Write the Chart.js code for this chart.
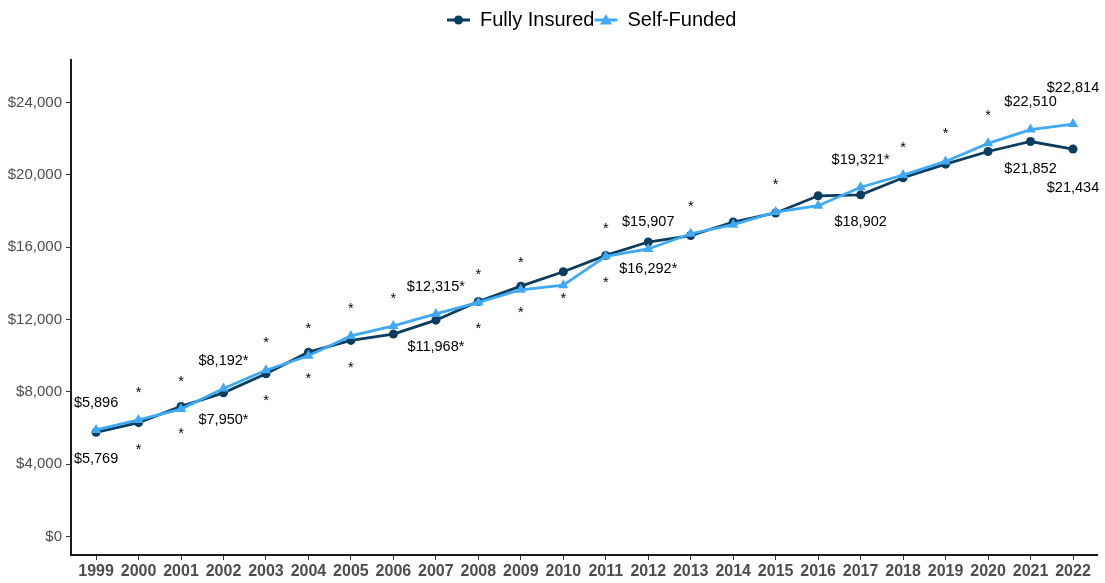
<!DOCTYPE html>
<html>
<head>
<meta charset="utf-8">
<script src="https://cdn.jsdelivr.net/npm/chart.js@4"></script>
<style>
  html, body { margin: 0; padding: 0; background: #fff; }
  canvas { display: block; }
</style>
</head>
<body>
<canvas id="premiumChart" width="1105" height="583"></canvas>
<script>
const years = [1999, 2000, 2001, 2002, 2003, 2004, 2005, 2006, 2007, 2008, 2009, 2010,
  2011, 2012, 2013, 2014, 2015, 2016, 2017, 2018, 2019, 2020, 2021, 2022];

const fullyInsured = [5769, 6300, 7200, 7950, 9000, 10200, 10850, 11200, 11968, 13000, 13850, 14650,
  15550, 16292, 16650, 17400, 17900, 18850, 18902, 19850, 20600, 21300, 21852, 21434];
const selfFunded = [5896, 6450, 7050, 8192, 9200, 10000, 11100, 11650, 12315, 12950, 13650, 13900,
  15500, 15907, 16750, 17250, 17950, 18300, 19321, 20000, 20750, 21750, 22510, 22814];

// text shown under the fully insured line / over the self-funded line
const fullyInsuredLabels = ['$5,769', '*', '*', '$7,950*', '*', '*', '*', '', '$11,968*', '*', '*', '*',
  '*', '$16,292*', '', '', '', '', '$18,902', '', '', '', '$21,852', '$21,434'];
const selfFundedLabels = ['$5,896', '*', '*', '$8,192*', '*', '*', '*', '*', '$12,315*', '*', '*', '',
  '*', '$15,907', '*', '', '*', '', '$19,321*', '*', '*', '*', '$22,510', '$22,814'];

const yTicks = [0, 4000, 8000, 12000, 16000, 20000, 24000];

const FONT = "'Liberation Sans', Arial, sans-serif";
const DARK = '#0b3d5e';
const LIGHT = '#40a9f5';

const NUDGE = 1500;
const lastNudge = { above: 2000, below: 2150 };

const fmtMoney = v => '$' + v.toLocaleString('en-US');

// === nhãn giá trị trên/dưới đường ===
const valueLabels = {
  id: 'valueLabels',
  afterDatasetsDraw(chart) {
    const { ctx, scales: { x, y } } = chart;
    ctx.save();
    ctx.font = '14.5px ' + FONT;
    ctx.fillStyle = '#000';
    ctx.textAlign = 'center';
    ctx.textBaseline = 'middle';
    const last = years.length - 1;
    years.forEach((yr, i) => {
      const px = x.getPixelForValue(yr);
      const up = i === last ? lastNudge.above : NUDGE;
      const down = i === last ? lastNudge.below : NUDGE;
      if (selfFundedLabels[i]) ctx.fillText(selfFundedLabels[i], px, y.getPixelForValue(selfFunded[i] + up));
      if (fullyInsuredLabels[i]) ctx.fillText(fullyInsuredLabels[i], px, y.getPixelForValue(fullyInsured[i] - down));
    });
    ctx.restore();
  }
};

// === chú thích ở trên cùng ===
const topLegend = {
  id: 'topLegend',
  afterDraw(chart) {
    const ctx = chart.ctx;
    const items = [
      { text: 'Fully Insured', color: DARK, style: 'circle' },
      { text: 'Self-Funded', color: LIGHT, style: 'triangle' }
    ];
    ctx.save();
    ctx.font = '20px ' + FONT;
    ctx.textBaseline = 'middle';
    ctx.textAlign = 'left';
    const cy = 20;
    let xPos = 447;
    items.forEach(it => {
      ctx.strokeStyle = it.color;
      ctx.fillStyle = it.color;
      ctx.lineWidth = 3;
      ctx.beginPath();
      ctx.moveTo(xPos, cy);
      ctx.lineTo(xPos + 23, cy);
      ctx.stroke();
      const mx = xPos + 11.5;
      ctx.beginPath();
      if (it.style === 'circle') {
        ctx.arc(mx, cy, 4.5, 0, Math.PI * 2);
      } else {
        ctx.moveTo(mx, cy - 6);
        ctx.lineTo(mx + 6, cy + 4.5);
        ctx.lineTo(mx - 6, cy + 4.5);
        ctx.closePath();
      }
      ctx.fill();
      ctx.fillStyle = '#000';
      ctx.fillText(it.text, xPos + 33, cy);
      xPos += 33 + ctx.measureText(it.text).width;
    });
    ctx.restore();
  }
};

new Chart(document.getElementById('premiumChart'), {
  type: 'line',
  data: {
    datasets: [
      {
        label: 'Fully Insured',
        data: years.map((yr, i) => ({ x: yr, y: fullyInsured[i] })),
        borderColor: DARK,
        backgroundColor: DARK,
        borderWidth: 2.8,
        pointStyle: 'circle',
        pointRadius: 4.5,
        pointBorderWidth: 0,
        tension: 0,
        order: 1
      },
      {
        label: 'Self-Funded',
        data: years.map((yr, i) => ({ x: yr, y: selfFunded[i] })),
        borderColor: LIGHT,
        backgroundColor: LIGHT,
        borderWidth: 2.8,
        pointStyle: 'triangle',
        pointRadius: 6,
        pointBorderWidth: 0,
        tension: 0,
        order: 0
      }
    ]
  },
  options: {
    responsive: false,
    animation: false,
    devicePixelRatio: 1,
    layout: { padding: { top: 60, left: 8, right: 8, bottom: 0 } },
    plugins: {
      legend: { display: false },
      tooltip: { enabled: false }
    },
    scales: {
      x: {
        type: 'linear',
        min: 1998.41,
        max: 2022.565,
        afterBuildTicks: s => { s.ticks = years.map(v => ({ value: v })); },
        afterFit: s => { s.height = 28; },
        grid: { drawOnChartArea: false, drawTicks: true, tickLength: 5, tickColor: '#333', lineWidth: 1 },
        border: { display: true, color: '#1a1a1a', width: 2 },
        ticks: {
          autoSkip: false,
          maxRotation: 0,
          padding: 2,
          color: '#4d4d4d',
          font: { family: FONT, size: 16, weight: 'bold' },
          callback: v => String(v)
        }
      },
      y: {
        min: -1020,
        max: 26360,
        afterBuildTicks: s => { s.ticks = yTicks.map(v => ({ value: v })); },
        afterFit: s => { s.width = 63; },
        grid: { drawOnChartArea: false, drawTicks: true, tickLength: 5, tickColor: '#333', lineWidth: 1 },
        border: { display: true, color: '#1a1a1a', width: 2 },
        ticks: {
          padding: 4,
          color: '#4d4d4d',
          font: { family: FONT, size: 15 },
          callback: v => fmtMoney(v)
        }
      }
    }
  },
  plugins: [valueLabels, topLegend]
});
</script>
</body>
</html>
